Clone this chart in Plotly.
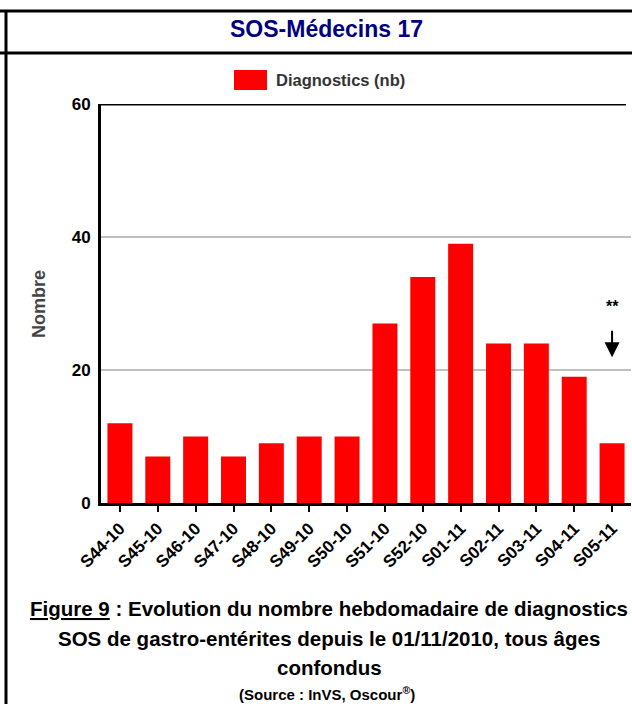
import plotly.graph_objects as go

weeks = ["S44-10", "S45-10", "S46-10", "S47-10", "S48-10", "S49-10", "S50-10",
         "S51-10", "S52-10", "S01-11", "S02-11", "S03-11", "S04-11", "S05-11"]
diagnostics = [12, 7, 10, 7, 9, 10, 10, 27, 34, 39, 24, 24, 19, 9]
y_ticks = [0, 20, 40, 60]

W, H = 632, 704
arial = "Liberation Sans, Arial, sans-serif"


def px_x(x):
    return x / W


def px_y(y):
    return 1 - y / H


fig = go.Figure()
fig.add_trace(go.Bar(
    x=weeks,
    y=diagnostics,
    name="Diagnostics (nb)",
    marker=dict(color="#ff0000", line=dict(width=0)),
    width=0.66,
    showlegend=False,
))

fig.update_layout(
    width=W,
    height=H,
    autosize=False,
    margin=dict(l=0, r=0, t=0, b=0),
    paper_bgcolor="white",
    plot_bgcolor="white",
    font=dict(family=arial, color="#000"),
)

fig.update_xaxes(
    domain=[px_x(101), px_x(631)],
    type="category",
    showline=True, linecolor="black", linewidth=3,
    ticks="outside", ticklen=6, tickwidth=2, tickcolor="black",
    tickangle=-45,
    tickfont=dict(size=17, color="#000", weight="bold"),
    showgrid=False,
    automargin=False,
)
fig.update_yaxes(
    domain=[px_y(503), px_y(104)],
    range=[0, 60],
    tickvals=y_ticks,
    tickfont=dict(size=17, color="#000", weight="bold"),
    ticklabelstandoff=4,
    showline=True, linecolor="black", linewidth=3,
    ticks="", showgrid=True, gridcolor="#c0c0c0", gridwidth=2,
    zeroline=False,
    automargin=False,
)

# y-axis title
fig.add_annotation(
    text="<b>Nombre</b>", xref="paper", yref="paper",
    x=px_x(39), y=px_y(304), textangle=-90, showarrow=False,
    xanchor="center", yanchor="middle",
    font=dict(size=18, color="#444"),
)

# legend swatch + label
fig.add_shape(type="rect", xref="paper", yref="paper",
              x0=px_x(234), x1=px_x(267), y0=px_y(90), y1=px_y(70),
              fillcolor="#ff0000", line=dict(width=0))
fig.add_annotation(
    text="<b>Diagnostics (nb)</b>", xref="paper", yref="paper",
    x=px_x(274), y=px_y(80), xanchor="left", yanchor="middle", showarrow=False,
    font=dict(size=16.5, color="#333"),
)

# frame lines
fig.add_shape(type="line", xref="paper", yref="paper",
              x0=0, x1=1, y0=px_y(11), y1=px_y(11), line=dict(color="black", width=3))
fig.add_shape(type="line", xref="paper", yref="paper",
              x0=0, x1=1, y0=px_y(53), y1=px_y(53), line=dict(color="black", width=3))
fig.add_shape(type="line", xref="paper", yref="paper",
              x0=px_x(6), x1=px_x(6), y0=px_y(11), y1=0, line=dict(color="black", width=3))
# top border of plot
fig.add_shape(type="line", xref="paper", yref="y",
              x0=px_x(100), x1=px_x(626), y0=60, y1=60, line=dict(color="black", width=3))

fig.add_annotation(
    text="<b>SOS-Médecins 17</b>", xref="paper", yref="paper",
    x=px_x(326), y=px_y(29), xanchor="center", yanchor="middle", showarrow=False,
    font=dict(size=23, color="#000080"),
)

# ** marker with arrow on last week
fig.add_annotation(
    text="<b>**</b>", x=weeks[-1], y=29.6, showarrow=False,
    font=dict(size=16, color="#000"),
)
fig.add_annotation(
    x=weeks[-1], y=21.9, ax=0, ay=-28, text="",
    showarrow=True, arrowhead=2, arrowsize=1.5, arrowwidth=2, arrowcolor="black",
)

caption_lines = [
    "<b><u>Figure 9</u> : Evolution du nombre hebdomadaire de diagnostics</b>",
    "<b>SOS de gastro-entérites depuis le 01/11/2010, tous âges</b>",
    "<b>confondus</b>",
]
caption_y = [608, 638, 667]
for line, yy in zip(caption_lines, caption_y):
    fig.add_annotation(
        text=line, xref="paper", yref="paper",
        x=px_x(329), y=px_y(yy), xanchor="center", yanchor="middle", showarrow=False,
        font=dict(size=20.5, color="#000"),
    )
fig.add_annotation(
    text="<b>(Source : InVS, Oscour<sup>®</sup>)</b>", xref="paper", yref="paper",
    x=px_x(327), y=px_y(693), xanchor="center", yanchor="middle", showarrow=False,
    font=dict(size=15, color="#000"),
)

fig.write_html(
    "out.html",
    config={"displayModeBar": False},
    post_script="document.body.style.margin='0';document.body.style.overflow='hidden';",
)
